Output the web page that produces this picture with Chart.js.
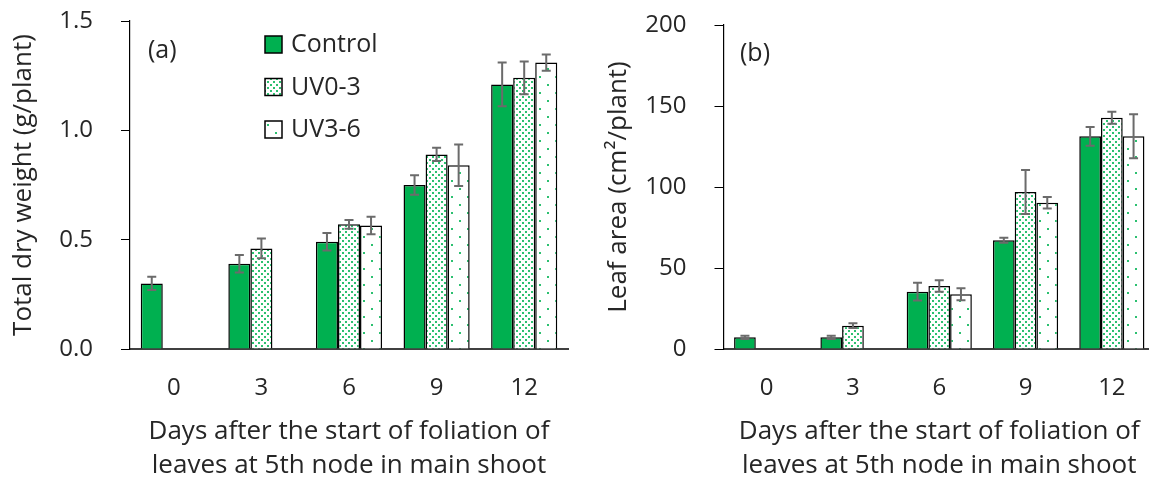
<!DOCTYPE html>
<html>
<head>
<meta charset="utf-8">
<script src="https://cdn.jsdelivr.net/npm/chart.js@4.4.1/dist/chart.umd.min.js"></script>
<style>
  html, body { margin: 0; padding: 0; background: #fff; overflow: hidden; }
  body { width: 1149px; height: 484px; position: relative; }
  .wrap { position: absolute; top: 0; height: 484px; }
  #wrap-a { left: 0; width: 575px; }
  #wrap-b { left: 596px; width: 560px; }
</style>
</head>
<body>
<div class="wrap" id="wrap-a"><canvas id="weight-chart"></canvas></div>
<div class="wrap" id="wrap-b"><canvas id="area-chart"></canvas></div>
<script>
// categories and series names
const days = ["0", "3", "6", "9", "12"];
const seriesNames = ["Control", "UV0-3", "UV3-6"];

// (a) total dry weight, g/plant (mean and error)
const weightControl = [0.30, 0.39, 0.49, 0.75, 1.21];
const weightUV03 = [null, 0.46, 0.57, 0.89, 1.24];
const weightUV36 = [null, null, 0.565, 0.84, 1.31];
const weightControlErr = [0.03, 0.04, 0.04, 0.045, 0.10];
const weightUV03Err = [null, 0.045, 0.02, 0.03, 0.075];
const weightUV36Err = [null, null, 0.04, 0.095, 0.037];
const weightTicks = [0, 0.5, 1.0, 1.5];

// (b) leaf area, cm2/plant (mean and error)
const areaControl = [7.2, 7.2, 35.4, 67.1, 131.3];
const areaUV03 = [null, 14.4, 38.9, 96.9, 142.8];
const areaUV36 = [null, null, 33.8, 90.3, 131.3];
const areaControlErr = [1.0, 1.0, 5.5, 1.5, 5.8];
const areaUV03Err = [null, 1.5, 3.5, 13.6, 3.7];
const areaUV36Err = [null, null, 3.7, 3.5, 13.6];
const areaTicks = [0, 50, 100, 150, 200];

const xTitle = ["Days after the start of foliation of", "leaves at 5th node in main shoot"];

const FONT = "Open Sans";
const TEXT = "#262626";
const GREEN = "#00b050";

function makePattern(ctx, size, dots, dotSize, color) {
  const tile = document.createElement("canvas");
  tile.width = size;
  tile.height = size;
  const t = tile.getContext("2d");
  t.fillStyle = "#ffffff";
  t.fillRect(0, 0, size, size);
  t.fillStyle = color;
  for (let d of dots) {
    t.fillRect(d[0], d[1], dotSize, dotSize);
  }
  return ctx.createPattern(tile, "repeat");
}

const errorBars = {
  id: "errorBars",
  afterDatasetsDraw(chart) {
    const ctx = chart.ctx;
    const y = chart.scales.y;
    ctx.save();
    ctx.strokeStyle = "#6b6b6b";
    ctx.lineWidth = 2;
    chart.data.datasets.forEach((ds, i) => {
      const meta = chart.getDatasetMeta(i);
      meta.data.forEach((bar, j) => {
        const v = ds.data[j];
        const e = ds.errors[j];
        if (v == null || e == null) return;
        const top = y.getPixelForValue(v + e);
        const bottom = y.getPixelForValue(v - e);
        ctx.beginPath();
        ctx.moveTo(bar.x, top);
        ctx.lineTo(bar.x, bottom);
        ctx.moveTo(bar.x - 4.5, top);
        ctx.lineTo(bar.x + 4.5, top);
        ctx.moveTo(bar.x - 4.5, bottom);
        ctx.lineTo(bar.x + 4.5, bottom);
        ctx.stroke();
      });
    });
    ctx.restore();
  },
};

const panelText = {
  id: "panelText",
  afterDraw(chart, args, opts) {
    const ctx = chart.ctx;
    ctx.save();
    ctx.fillStyle = TEXT;
    ctx.textBaseline = "middle";
    ctx.font = `25px "${FONT}"`;
    ctx.fillText(opts.label, opts.labelX, opts.labelY);
    if (opts.legend) {
      chart.data.datasets.forEach((ds, i) => {
        const top = opts.legendY + i * 42.5;
        ctx.fillStyle = ds.backgroundColor;
        ctx.fillRect(opts.legendX, top, 17, 17);
        ctx.strokeStyle = "#000";
        ctx.lineWidth = 1.5;
        ctx.strokeRect(opts.legendX, top, 17, 17);
        ctx.fillStyle = TEXT;
        ctx.fillText(ds.label, opts.legendX + 26, top + 9);
      });
    }
    ctx.restore();
  },
};

function buildChart(id, values, errs, ticks, yTitle, yWidth, titlePad, layoutPad, panel) {
  const ctx = document.getElementById(id).getContext("2d");
  const fills = [
    GREEN,
    makePattern(ctx, 6, [[0, 0], [3, 3]], 2, "#2cc070"),
    makePattern(ctx, 16, [[3, 4], [11, 12]], 2, "#2cc070"),
  ];
  const datasets = [];
  for (let i = 0; i < seriesNames.length; i++) {
    datasets.push({
      label: seriesNames[i],
      data: values[i],
      errors: errs[i],
      backgroundColor: fills[i],
      borderColor: "#000000",
      borderWidth: 1.5,
      categoryPercentage: 0.755,
      barPercentage: 1.0,
    });
  }

  return new Chart(ctx, {
    type: "bar",
    plugins: [errorBars, panelText],
    data: { labels: days, datasets: datasets },
    options: {
      responsive: true,
      maintainAspectRatio: false,
      animation: false,
      layout: { padding: layoutPad },
      plugins: {
        legend: { display: false },
        tooltip: { enabled: false },
        panelText: panel,
      },
      scales: {
        x: {
          afterFit: (scale) => {
            scale.height = 135;
          },
          grid: { display: false, drawTicks: false },
          border: { display: true, color: "#404040", width: 2 },
          ticks: {
            color: TEXT,
            padding: 25,
            font: { family: FONT, size: 24 },
          },
          title: {
            display: true,
            text: xTitle,
            color: TEXT,
            font: { family: FONT, size: 26, lineHeight: 1.3 },
            padding: { top: 0, bottom: 2 },
          },
        },
        y: {
          min: ticks[0],
          max: ticks[ticks.length - 1],
          afterFit: (scale) => {
            scale.width = yWidth;
            scale.paddingTop = 0;
            scale.paddingBottom = 0;
          },
          grid: {
            display: true,
            drawOnChartArea: false,
            drawTicks: true,
            tickLength: 9,
            color: "#000000",
          },
          border: { display: true, color: "#000000", width: 1.2 },
          ticks: {
            stepSize: ticks[1] - ticks[0],
            color: TEXT,
            padding: 28,
            font: { family: FONT, size: 24 },
            callback: (v) => (ticks[ticks.length - 1] < 10 ? Number(v).toFixed(1) : v),
          },
          title: {
            display: true,
            text: yTitle,
            color: TEXT,
            font: { family: FONT, size: 26 },
            padding: { top: titlePad, bottom: 0 },
          },
        },
      },
    },
  });
}

buildChart(
  "weight-chart",
  [weightControl, weightUV03, weightUV36],
  [weightControlErr, weightUV03Err, weightUV36Err],
  weightTicks,
  "Total dry weight (g/plant)",
  130,
  7.5,
  { top: 21, right: 7, left: 0, bottom: 0 },
  { label: "(a)", labelX: 148, labelY: 51, legend: true, legendX: 265, legendY: 36 }
);

buildChart(
  "area-chart",
  [areaControl, areaUV03, areaUV36],
  [areaControlErr, areaUV03Err, areaUV36Err],
  areaTicks,
  "Leaf area (cm\u00b2/plant)",
  127.5,
  6.5,
  { top: 25, right: 1, left: 0, bottom: 0 },
  { label: "(b)", labelX: 144, labelY: 54, legend: false }
);
</script>
</body>
</html>
